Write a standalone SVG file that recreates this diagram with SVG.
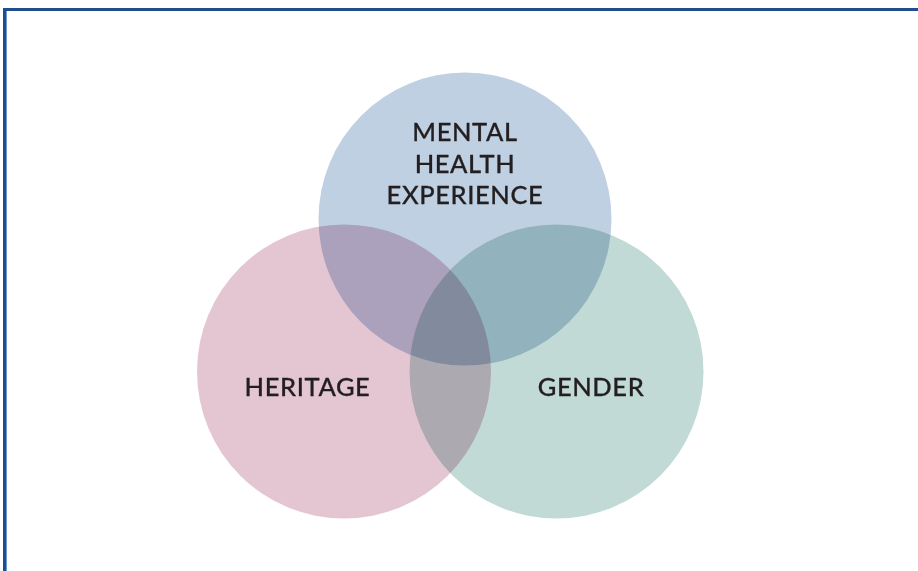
<svg xmlns="http://www.w3.org/2000/svg" width="918" height="571" viewBox="0 0 918 571">
  <style>
    .c { mix-blend-mode: multiply; }
    .t { font-family: Lato, "Liberation Sans", sans-serif; font-size: 25.5px; font-weight: 500; letter-spacing: 0.6px; fill: #231f20; text-anchor: middle; stroke: #231f20; stroke-width: 0.28px; }
  </style>
  <rect x="0" y="0" width="918" height="571" fill="#ffffff"/>
  <g id="frame">
    <line x1="3" y1="9.5" x2="918" y2="9.5" stroke="#1f4e8f" stroke-width="3"/>
    <line x1="4.5" y1="8" x2="4.5" y2="571" stroke="#1f4e8f" stroke-width="3"/>
    <line x1="6.5" y1="11" x2="6.5" y2="571" stroke="#6a9ad6" stroke-width="1"/>
  </g>
  <g id="mental-health">
    <circle class="c" cx="465" cy="219" r="146.5" fill="#c0d0e3"/>
  </g>
  <g id="heritage">
    <circle class="c" cx="344" cy="371.5" r="147" fill="#e4c6d3"/>
  </g>
  <g id="gender">
    <circle class="c" cx="556.5" cy="371.5" r="147" fill="#c2dad5"/>
  </g>
  <g id="labels">
    <text class="t" x="465" y="140.5">MENTAL</text>
    <text class="t" x="465" y="172.5">HEALTH</text>
    <text class="t" x="465" y="204">EXPERIENCE</text>
    <text class="t" x="307.5" y="395.5">HERITAGE</text>
    <text class="t" x="591" y="395.5">GENDER</text>
  </g>
  <g id="connectors"/>
</svg>
